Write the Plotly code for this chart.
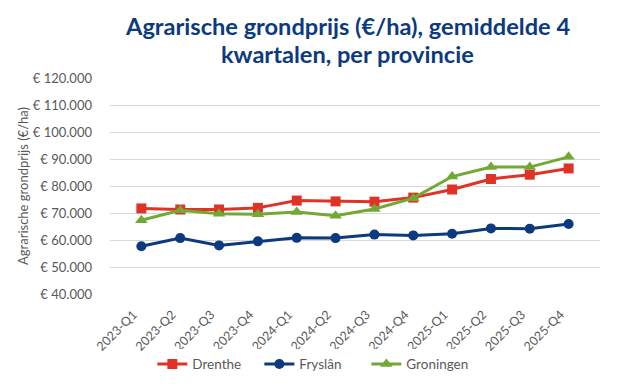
import plotly.graph_objects as go

quarters = ["2023-Q1", "2023-Q2", "2023-Q3", "2023-Q4", "2024-Q1", "2024-Q2",
            "2024-Q3", "2024-Q4", "2025-Q1", "2025-Q2", "2025-Q3", "2025-Q4"]
drenthe = [71700, 71300, 71300, 71900, 74600, 74300, 74200, 75700, 78700, 82600, 84200, 86500]
fryslan = [57700, 60700, 58000, 59500, 60800, 60700, 62000, 61700, 62300, 64300, 64200, 65900]
groningen = [67300, 71000, 69700, 69500, 70400, 69000, 71500, 75500, 83500, 87000, 87000, 90800]

title_lines = ["Agrarische grondprijs (€/ha), gemiddelde 4", "kwartalen, per provincie"]

series = [
    ("Drenthe", drenthe, "#DF3326", "square"),
    ("Fryslân", fryslan, "#0B3A7F", "circle"),
    ("Groningen", groningen, "#72A834", "triangle-up"),
]

FONT = "Lato"
GRAY = "#595959"
TITLE_COLOR = "#0B3A7F"

fig = go.Figure()
for name, vals, color, sym in series:
    fig.add_trace(go.Scatter(
        x=quarters, y=vals, name=name, mode="lines+markers",
        line=dict(color=color, width=3),
        marker=dict(symbol=sym, size=10 if sym != "triangle-up" else 11, color=color),
    ))

for text, ypos in zip(title_lines, [1.24, 1.112]):
    fig.add_annotation(
        text=f"<b>{text}</b>", x=0.484, y=ypos, xref="paper", yref="paper",
        xanchor="center", yanchor="middle", showarrow=False,
        font=dict(family=FONT, size=23.6, color=TITLE_COLOR),
    )

# page body has an 8px offset; compensate so the plot area sits at x 110-600, y 78-294
fig.update_layout(
    width=618, height=379,
    margin=dict(l=102, r=26, t=70, b=93, autoexpand=False),
    paper_bgcolor="white", plot_bgcolor="white",
    separators=",.",
    font=dict(family=FONT, color=GRAY, size=13),
    showlegend=True,
    legend=dict(orientation="h", x=0.414, xanchor="center", y=-0.325, yanchor="middle",
                font=dict(family=FONT, size=13.5, color=GRAY), entrywidth=62,
                traceorder="normal"),
    xaxis=dict(
        type="category", tickangle=-45, showgrid=False, showline=False,
        ticks="", automargin=False, ticklabelstandoff=10, ticklabelshift=-8,
        tickfont=dict(family=FONT, size=12.5, color=GRAY),
    ),
    yaxis=dict(
        range=[40000, 120000], dtick=10000, tickprefix="€ ", tickformat=",.0f",
        showgrid=True, gridcolor="#D9D9D9", gridwidth=1, zeroline=False,
        showline=False, ticks="", automargin=False, ticklabelstandoff=17,
        tickfont=dict(family=FONT, size=13, color=GRAY),
        title=dict(text="Agrarische grondprijs (€/ha)", font=dict(family=FONT, size=13, color=GRAY), standoff=1),
    ),
)

fig.write_html("out.html")
